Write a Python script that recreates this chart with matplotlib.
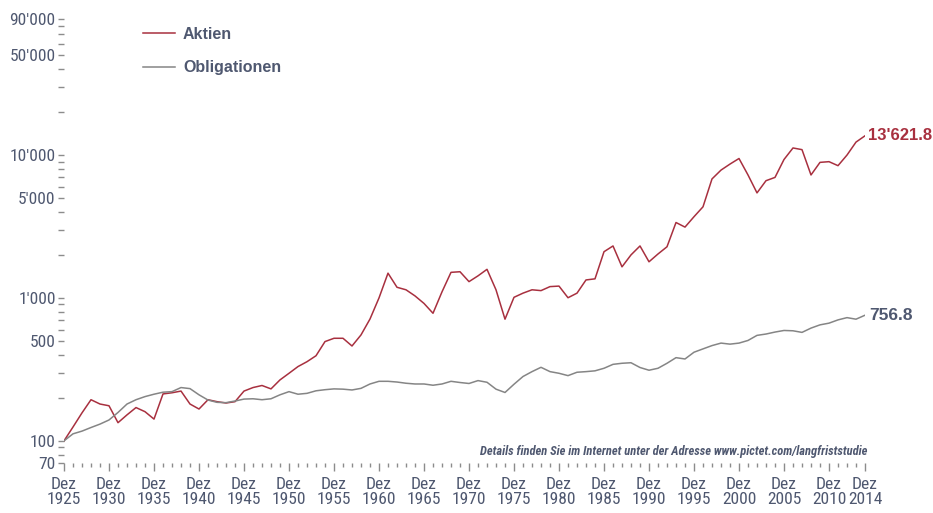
import numpy as np
import matplotlib
matplotlib.use("Agg")
import matplotlib.pyplot as plt
from matplotlib import font_manager as fm
from matplotlib.ticker import FixedLocator, NullFormatter

# --- Daten (Dez 1925 = 100) ---
jahre = np.arange(1925, 2015)

aktien = [
    100, 125, 157, 194, 181, 176, 134, 152, 171, 160,
    142, 213, 217, 223, 181, 167, 194, 188, 184, 188,
    223, 236, 244, 231, 267, 297, 331, 358, 394, 495,
    522, 522, 461, 551, 712, 1000, 1490, 1187, 1140, 1033,
    915, 781, 1103, 1510, 1525, 1300, 1427, 1585, 1140, 710,
    1010, 1080, 1140, 1125, 1200, 1210, 1003, 1080, 1336, 1360,
    2105, 2310, 1650, 2000, 2310, 1790, 2030, 2280, 3370, 3130,
    3700, 4340, 6800, 7840, 8640, 9450, 7250, 5430, 6610, 6970,
    9300, 11200, 10900, 7250, 8880, 8980, 8420, 9990, 12310, 13621.8,
]

obligationen = [
    100, 112, 117, 124, 131, 140, 158, 181, 194, 204,
    212, 219, 221, 236, 232, 210, 193, 186, 185, 190,
    196, 197, 194, 197, 210, 221, 212, 215, 224, 228,
    231, 230, 227, 233, 250, 261, 261, 258, 253, 250,
    250, 245, 250, 261, 256, 252, 264, 257, 230, 218,
    249, 282, 305, 327, 305, 297, 286, 302, 305, 309,
    322, 343, 349, 352, 326, 312, 322, 349, 382, 374,
    417, 440, 464, 483, 475, 483, 504, 547, 559, 577,
    592, 589, 574, 615, 648, 666, 702, 728, 710, 756.8,
]

y_major = [70, 100, 500, 1000, 5000, 10000, 50000, 90000]
y_labels = ["70", "100", "500", "1'000", "5'000", "10'000", "50'000", "90'000"]
y_minor = [80, 90, 200, 300, 400, 600, 700, 800, 900,
           2000, 3000, 4000, 6000, 7000, 8000, 9000,
           20000, 30000, 40000, 60000, 70000, 80000]

x_label_jahre = list(range(1925, 2015, 5)) + [2014]

# --- Farben ---
ROT = "#a8303f"
GRAU = "#858585"
TEXT = "#4f5870"
TICK = "#8c8c8c"
BOLD = ["Liberation Sans", "DejaVu Sans"]


# schmale Schrift suchen (Narrow / Condensed), sonst Roboto
def find_narrow(bold=False, italic=False):
    best = None
    for f in fm.fontManager.ttflist:
        narrow = ("Narrow" in f.name or "Condensed" in f.name
                  or f.stretch in ("condensed", "semi-condensed", 500 - 125, 500 - 250))
        if not narrow:
            continue
        w = f.weight if isinstance(f.weight, int) else (700 if f.weight == "bold" else 400)
        if (w >= 600) != bold:
            continue
        if (f.style != "normal") != italic:
            continue
        rank = 0 if "Liberation" in f.name else 1 if "Roboto" in f.name else 2
        if best is None or rank < best[0]:
            best = (rank, f.fname)
    return best[1] if best else None


def narrow_fp(size, bold=False, italic=False):
    path = find_narrow(bold, italic) or find_narrow(bold, False) or find_narrow(False, False)
    if path:
        return fm.FontProperties(fname=path, size=size)
    return fm.FontProperties(family=["Roboto", "DejaVu Sans"], size=size * 0.8,
                             weight="bold" if bold else "normal",
                             style="italic" if italic else "normal")


W, H = 933, 513
fig = plt.figure(figsize=(W / 100, H / 100), dpi=100)
left, right = 64, 865
top, bottom = 18.6, 463
ax = fig.add_axes([left / W, 1 - bottom / H, (right - left) / W, (bottom - top) / H])

ax.plot(jahre, aktien, color=ROT, lw=1.1, label="Aktien")
ax.plot(jahre, obligationen, color=GRAU, lw=1.1, label="Obligationen")

ax.set_yscale("log")
ax.set_xlim(1925, 2014)
ax.set_ylim(70, 90000)

for s in ax.spines.values():
    s.set_visible(False)

# y-Achse
ax.yaxis.set_major_locator(FixedLocator(y_major))
ax.yaxis.set_minor_locator(FixedLocator(y_minor))
ax.yaxis.set_minor_formatter(NullFormatter())
ax.set_yticklabels(y_labels)
ax.tick_params(axis="y", which="both", direction="out", length=4, width=1.0,
               color=TICK, pad=2)
fp_y = narrow_fp(12.5)
for lab in ax.get_yticklabels():
    lab.set_fontproperties(fp_y)
    lab.set_color(TEXT)

# x-Achse
ax.xaxis.set_major_locator(FixedLocator(x_label_jahre))
ax.xaxis.set_minor_locator(FixedLocator(list(jahre)))
ax.set_xticklabels([f"Dez\n{j}" for j in x_label_jahre])
ax.tick_params(axis="x", which="major", direction="out", length=6, width=1.0,
               color=TICK, pad=4)
ax.tick_params(axis="x", which="minor", direction="out", length=3, width=1.0,
               color=TICK)
fp_x = narrow_fp(12.6)
for lab in ax.get_xticklabels():
    lab.set_fontproperties(fp_x)
    lab.set_color(TEXT)
    lab.set_linespacing(1.05)

# Legende
leg = ax.legend(loc="upper left", bbox_to_anchor=(143 / W, 1 - 27 / H),
                bbox_transform=fig.transFigure, frameon=False, borderpad=0,
                borderaxespad=0, handlelength=2.0, handletextpad=0.5,
                labelspacing=1.15, prop={"family": BOLD, "weight": "bold", "size": 11.5})
for t in leg.get_texts():
    t.set_color(TEXT)

# Endwerte
ax.annotate("13'621.8", xy=(jahre[-1], aktien[-1]), xytext=(2, 0),
            textcoords="offset points", va="center", ha="left",
            color=ROT, fontsize=12, fontweight="bold", family=BOLD,
            annotation_clip=False)
ax.annotate("756.8", xy=(jahre[-1], obligationen[-1]), xytext=(3, 0),
            textcoords="offset points", va="center", ha="left",
            color=TEXT, fontsize=12.5, fontweight="bold", family=BOLD,
            annotation_clip=False)

fig.text(867 / W, 1 - 452 / H,
         "Details finden Sie im Internet unter der Adresse www.pictet.com/langfriststudie",
         ha="right", va="center", fontproperties=narrow_fp(9, bold=True, italic=True),
         color=TEXT)

fig.savefig("out.png", dpi=100)
